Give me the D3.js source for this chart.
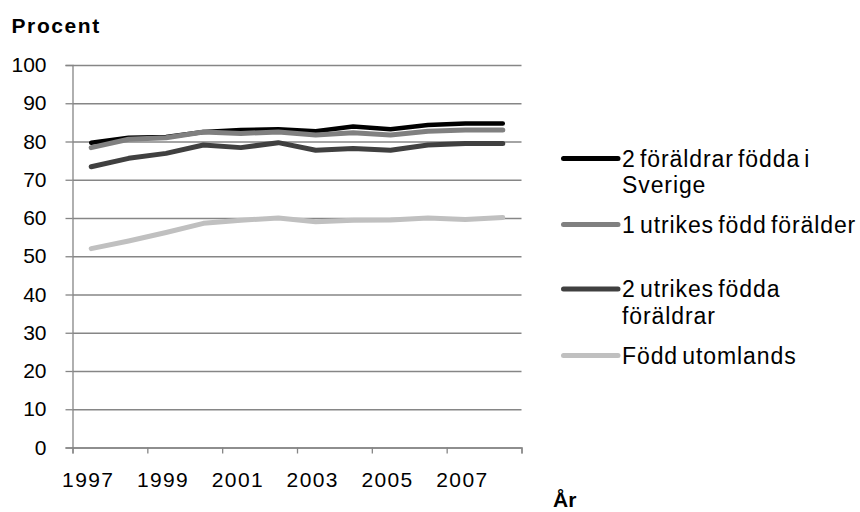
<!DOCTYPE html>
<html><head><meta charset="utf-8">
<script src="https://cdn.jsdelivr.net/npm/d3@7"></script>
<style>
html,body{margin:0;padding:0;background:#fff;}
text{font-family:"Liberation Sans",Arial,sans-serif;fill:#000;}
</style></head>
<body>
<svg id="c" width="860" height="512"></svg>
<script>
const years = [1997,1998,1999,2000,2001,2002,2003,2004,2005,2006,2007,2008];
const tickYears = [1997,1999,2001,2003,2005,2007];
const yTicks = [0,10,20,30,40,50,60,70,80,90,100];
const seriesNames = ["2 föräldrar födda i Sverige","1 utrikes född förälder","2 utrikes födda föräldrar","Född utomlands"];
const bothSweden  = [79.7,81.0,81.2,82.5,83.0,83.2,82.7,83.9,83.2,84.3,84.7,84.7];
const oneForeign  = [78.4,80.6,81.0,82.5,82.1,82.5,81.7,82.3,81.7,82.7,83.0,83.0];
const twoForeign  = [73.4,75.6,76.9,79.1,78.4,79.7,77.7,78.2,77.7,79.1,79.5,79.5];
const bornAbroad  = [52.0,54.0,56.2,58.6,59.4,60.0,59.0,59.4,59.5,60.0,59.6,60.1];

const series = [
  {name:seriesNames[0], values:bothSweden, color:"#000000", w:4.5, legend:["2 föräldrar födda i","Sverige"]},
  {name:seriesNames[1], values:oneForeign, color:"#808080", w:5,   legend:["1 utrikes född förälder"]},
  {name:seriesNames[2], values:twoForeign, color:"#404040", w:5,   legend:["2 utrikes födda","föräldrar"]},
  {name:seriesNames[3], values:bornAbroad, color:"#c0c0c0", w:5,   legend:["Född utomlands"]}
];

const svg = d3.select("#c");
const x0 = 72.5, x1 = 521.5, yTop = 65, yBot = 447.5;
const x = d3.scaleBand().domain(years).range([x0,x1]).padding(0);
const xi = d3.scaleLinear().domain([0,years.length]).range([x0,x1]);
const y = d3.scaleLinear().domain([0,100]).range([yBot,yTop]);
const gridColor = "#868686";

// gridlines
const grid = svg.append("g").attr("transform",`translate(${x0},0)`)
  .call(d3.axisLeft(y).tickValues(yTicks).tickSize(-(x1-x0)).tickFormat(""));
grid.select(".domain").remove();
grid.selectAll("line").attr("stroke",gridColor).attr("stroke-width",1.3);

// y axis ticks & labels
const ya = svg.append("g").attr("transform",`translate(${x0},0)`)
  .call(d3.axisLeft(y).tickValues(yTicks).tickSize(7).tickPadding(19));
ya.select(".domain").attr("stroke",gridColor).attr("stroke-width",1.3);
ya.selectAll("line").attr("stroke",gridColor).attr("stroke-width",1.3);
ya.selectAll("text").attr("font-size",21).attr("font-family","Liberation Sans, Arial, sans-serif").attr("fill","#000");

// x axis tick marks at band boundaries every 2 years
const xa = svg.append("g").attr("transform",`translate(0,${yBot})`)
  .call(d3.axisBottom(xi).tickValues(d3.range(0,years.length+1,2)).tickSize(6).tickFormat(""));
xa.select(".domain").attr("stroke",gridColor).attr("stroke-width",1.3);
xa.selectAll("line").attr("stroke",gridColor).attr("stroke-width",1.3);

// x labels
const xl = svg.append("g").attr("transform",`translate(-3,${yBot})`)
  .call(d3.axisBottom(x).tickValues(tickYears).tickSize(0).tickPadding(25));
xl.select(".domain").remove();
xl.selectAll("text").attr("font-size",21).attr("letter-spacing","1.4px")
  .attr("font-family","Liberation Sans, Arial, sans-serif").attr("fill","#000");

// lines
const line = d3.line().x((d,i)=>x(years[i])+x.bandwidth()/2).y(d=>y(d));
svg.append("g").selectAll("path").data(series).join("path")
  .attr("d",d=>line(d.values)).attr("fill","none")
  .attr("stroke",d=>d.color).attr("stroke-width",d=>d.w)
  .attr("stroke-linecap","round").attr("stroke-linejoin","round");

// titles
svg.append("text").attr("x",11.5).attr("y",33).attr("font-size",21).attr("font-weight","bold")
  .attr("letter-spacing","1.6px").text("Procent");
svg.append("text").attr("x",553).attr("y",507).attr("font-size",21).attr("font-weight","bold")
  .text("År");

// legend
const legBase = [166.5, 232.5, 297, 363.5];
const lg = svg.append("g");
series.forEach((s,i)=>{
  const b = legBase[i];
  lg.append("line").attr("x1",563.5).attr("x2",618).attr("y1",b-8).attr("y2",b-8)
    .attr("stroke",s.color).attr("stroke-width",5).attr("stroke-linecap","round");
  s.legend.forEach((t,j)=>{
    lg.append("text").attr("x",622).attr("y",b+j*26.5).attr("font-size",23)
      .attr("letter-spacing","0.9px").attr("word-spacing","-3px").text(t);
  });
});
</script>
</body></html>
